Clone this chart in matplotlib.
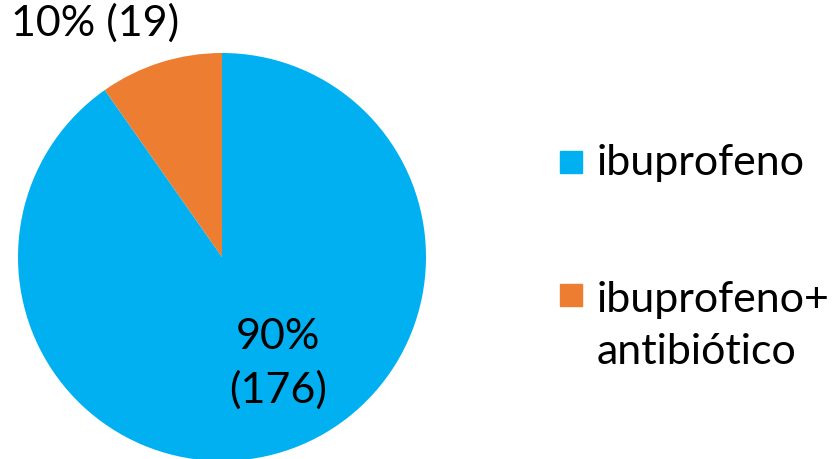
import matplotlib
matplotlib.use("Agg")
import matplotlib.pyplot as plt
from matplotlib.patches import Rectangle

categories = ["ibuprofeno", "ibuprofeno+\nantibiótico"]
counts = [176, 19]
percents = ["90%", "10%"]
colors = ["#00B0F0", "#ED7D31"]

plt.rcParams['font.family'] = ['Lato', 'DejaVu Sans']

W, H = 838, 460
fig = plt.figure(figsize=(W / 100, H / 100), dpi=100)
cx, cy, r = 222, 258, 204
ax = fig.add_axes([(cx - r) / W, (H - cy - r) / H, 2 * r / W, 2 * r / H])
ax.pie(counts, colors=colors, startangle=90, counterclock=False, radius=1,
       wedgeprops=dict(linewidth=0), frame=False)
ax.set_xlim(-1, 1)
ax.set_ylim(-1, 1)
ax.set_aspect('auto')
ax.axis('off')

fs = 31
ls = 1.45
ax.text(0.275, -0.52, f"{percents[0]}\n({counts[0]})", ha='center', va='center',
        fontsize=fs, color='black', linespacing=ls)
ax.text(-0.62, 1.15, f"{percents[1]} ({counts[1]})", ha='center', va='center',
        fontsize=fs, color='black', clip_on=False)

# legend
sq = 22
sq_y = [163, 296]
txt_y = [163, 326]
for lab, col, sy, ty in zip(categories, colors, sq_y, txt_y):
    fig.patches.append(Rectangle((560 / W, (H - sy - sq / 2) / H), sq / W, sq / H,
                                 transform=fig.transFigure, color=col))
    fig.text(597 / W, (H - ty) / H, lab, fontsize=fs, ha='left', va='center',
             linespacing=ls)

fig.savefig("out.png", dpi=100)
